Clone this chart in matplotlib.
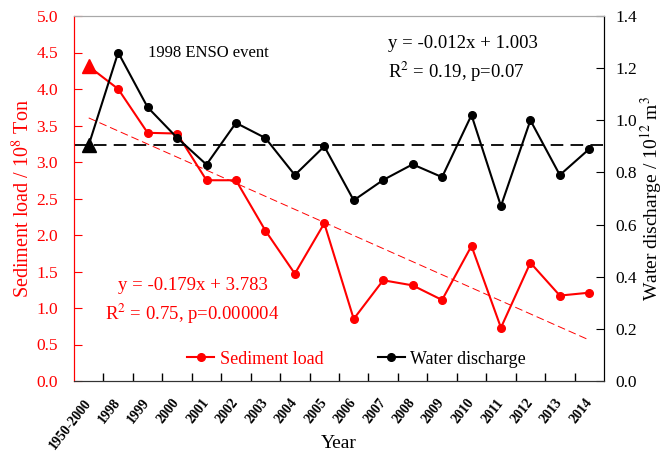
import numpy as np
import matplotlib
matplotlib.use('Agg')
import matplotlib.pyplot as plt
from matplotlib.ticker import MultipleLocator, FixedLocator, FormatStrFormatter

plt.rcParams['font.family'] = 'Liberation Serif'
plt.rcParams['mathtext.fontset'] = 'stix'

# data
years = ['1950-2000', '1998', '1999', '2000', '2001', '2002', '2003', '2004', '2005',
         '2006', '2007', '2008', '2009', '2010', '2011', '2012', '2013', '2014']
sediment = [4.31, 4.00, 3.40, 3.39, 2.75, 2.75, 2.06, 1.47, 2.16,
            0.85, 1.38, 1.31, 1.11, 1.85, 0.73, 1.62, 1.17, 1.21]
discharge = [0.905, 1.26, 1.05, 0.933, 0.83, 0.99, 0.932, 0.79, 0.90,
             0.693, 0.771, 0.831, 0.782, 1.02, 0.671, 1.00, 0.79, 0.89]
discharge_mean = 0.905
sed_slope, sed_intercept = -0.179, 3.783

RED = '#ff0000'
x = np.arange(len(years))

fig = plt.figure(figsize=(6.67, 4.51), dpi=100)
ax = fig.add_axes([74/667, 1 - 381/451, 530/667, 365/451])
ax2 = ax.twinx()

# sediment load (left axis)
l1, = ax.plot(x[1:], sediment[1:], color=RED, lw=1.5, marker='o', ms=5.5,
              label='Sediment load', zorder=3)
ax.plot(x[:2], sediment[:2], color=RED, lw=1.5, zorder=3)
ax.plot(x[0], sediment[0], color=RED, marker='^', ms=10, ls='none', zorder=4)
# linear trend of sediment load (x counted from 1)
xt = x[[0, -1]]
ax.plot(xt, sed_slope * (xt + 1) + sed_intercept, color=RED, lw=0.7,
        ls=(0, (8, 4)), zorder=2)

# water discharge (right axis)
l2, = ax2.plot(x[1:], discharge[1:], color='black', lw=1.5, marker='o', ms=5.5,
               label='Water discharge', zorder=3)
ax2.plot(x[:2], discharge[:2], color='black', lw=1.5, zorder=3)
ax2.plot(x[0], discharge[0], color='black', marker='^', ms=10, ls='none', zorder=4)
ax2.axhline(discharge_mean, color='black', lw=1.3, ls=(0, (7, 4)), zorder=2)

ax.set_xlim(-0.5, len(years) - 0.5)
ax.set_ylim(0, 5)
ax2.set_ylim(0, 1.4)
ax.yaxis.set_major_locator(MultipleLocator(0.5))
ax2.yaxis.set_major_locator(MultipleLocator(0.2))
ax.yaxis.set_major_formatter(FormatStrFormatter('%.1f'))
ax2.yaxis.set_major_formatter(FormatStrFormatter('%.1f'))

ax.set_xticks(x)
ax.set_xticklabels(years, rotation=52, ha='right', va='center', rotation_mode='anchor',
                   fontsize=10, fontweight='bold')
ax.xaxis.set_minor_locator(FixedLocator(x[:-1] + 0.5))
ax.tick_params(axis='x', which='major', length=0, pad=14)
ax.tick_params(axis='x', which='minor', direction='in', length=6, width=1)

ax.tick_params(axis='y', direction='in', length=6, colors=RED, labelsize=12.5, pad=11.5)
ax2.tick_params(axis='y', direction='in', length=6, colors='black', labelsize=12.5,
                pad=8.5)

for a in (ax, ax2):
    a.spines['left'].set_color(RED)
    a.spines['top'].set_color('#a8a8a8')
    a.spines['right'].set_color('black')
    a.spines['bottom'].set_color('#333333')

ax.set_ylabel('Sediment load / 10$^{8}$ Ton', color=RED, fontsize=14.5, labelpad=2)
ax2.set_ylabel('Water discharge / 10$^{12}$ m$^{3}$', color='black', fontsize=14,
               labelpad=0.5)
ax.set_xlabel('Year', fontsize=14)
ax.xaxis.set_label_coords(0.5, -0.148)

ax.text(0.14, 0.899, '1998 ENSO event', transform=ax.transAxes, fontsize=12,
        va='center')
ax.text(0.592, 0.926, 'y = -0.012x + 1.003', transform=ax.transAxes, fontsize=13.5,
        va='center')
ax.text(0.592, 0.847, 'R$^2$ = 0.19, p=0.07', transform=ax.transAxes, fontsize=13.5,
        va='center')
ax.text(0.083, 0.261, 'y = -0.179x + 3.783', transform=ax.transAxes, fontsize=13.5,
        va='center', color=RED)
ax.text(0.0585, 0.184, 'R$^2$ = 0.75, p=0.000004', transform=ax.transAxes,
        fontsize=13.5, va='center', color=RED)

leg = ax2.legend([l1, l2], ['Sediment load', 'Water discharge'], ncol=2,
                 loc='center', bbox_to_anchor=(0.533, 0.06), frameon=False,
                 fontsize=13, handlelength=1.5, columnspacing=3.0,
                 handletextpad=0.3)
for t, c in zip(leg.get_texts(), [RED, 'black']):
    t.set_color(c)

fig.savefig('out.png', dpi=100)
